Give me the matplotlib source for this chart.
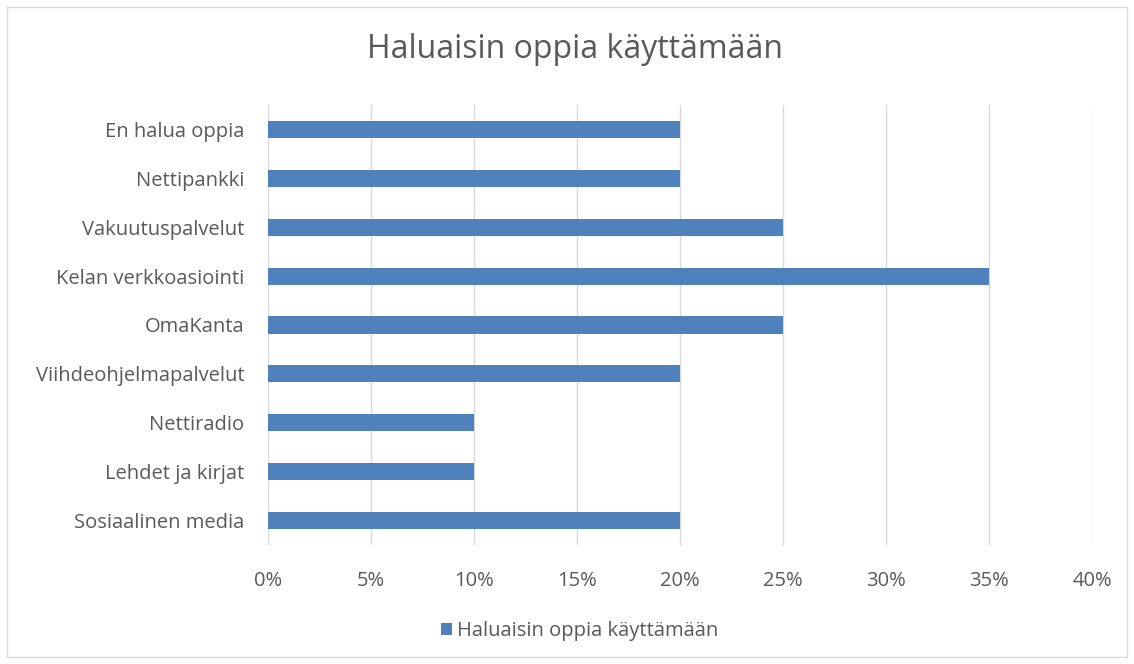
import matplotlib
matplotlib.use("Agg")
import matplotlib.pyplot as plt
from matplotlib.patches import Rectangle
from matplotlib.ticker import FuncFormatter, MultipleLocator

categories = ["Sosiaalinen media", "Lehdet ja kirjat", "Nettiradio",
              "Viihdeohjelmapalvelut", "OmaKanta", "Kelan verkkoasiointi",
              "Vakuutuspalvelut", "Nettipankki", "En halua oppia"]
values = [0.20, 0.10, 0.10, 0.20, 0.25, 0.35, 0.25, 0.20, 0.20]
series_name = "Haluaisin oppia käyttämään"
title = "Haluaisin oppia käyttämään"

plt.rcParams['font.family'] = ['Open Sans', 'DejaVu Sans']
gray = "#595959"
bar_color = "#4f81bd"

fig = plt.figure(figsize=(11.34, 6.64), dpi=100)
fig.patches.append(Rectangle((7/1134, 7/664), 1120/1134, 650/664, transform=fig.transFigure,
                             fill=False, edgecolor="#d9d9d9", linewidth=1))
ax = fig.add_axes([268/1134, 1-545/664, (1092-268)/1134, 440/664])

y = range(len(categories))
ax.barh(y, values, height=0.35, color=bar_color, label=series_name, zorder=3)
ax.set_ylim(-0.5, len(categories)-0.5)
ax.set_xlim(0, 0.40)
ax.xaxis.set_major_locator(MultipleLocator(0.05))
ax.xaxis.set_major_formatter(FuncFormatter(lambda v, p: f"{round(v*100)}%"))
ax.set_yticks(list(y))
ax.set_yticklabels(categories)
ax.grid(axis='x', color="#d9d9d9", linewidth=1, zorder=0)
for s in ax.spines.values():
    s.set_visible(False)
ax.tick_params(axis='both', length=0, colors=gray, labelsize=14.5)
ax.tick_params(axis='y', pad=17)
ax.tick_params(axis='x', pad=19)

fig.text(575/1134, 1-50/664, title, ha='center', va='center', fontsize=23, color=gray)
fig.legend(loc='center', bbox_to_anchor=(580/1134, 1-631/664), frameon=False,
           fontsize=14.5, labelcolor=gray, handlelength=0.55, handleheight=0.55,
           handletextpad=0.25)

fig.savefig("out.png", dpi=100)
